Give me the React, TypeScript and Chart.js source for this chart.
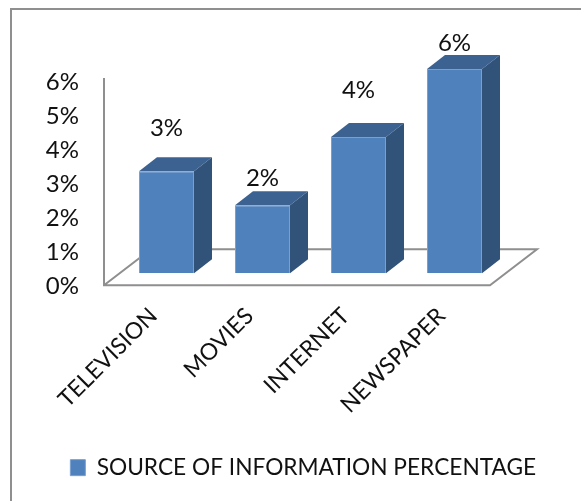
import React, { useEffect, useRef } from "react";
import { Chart, registerables } from "chart.js";

Chart.register(...registerables);

const categories = ["TELEVISION", "MOVIES", "INTERNET", "NEWSPAPER"];
const values = [3, 2, 4, 6];
const seriesName = "SOURCE OF INFORMATION PERCENTAGE";
const labelLift = [43, 27, 47, 26];
const FONT = "Lato, Carlito, Calibri, sans-serif";

const depthX = 18;
const depthY = 14;
const legendShift = 52;

const decor = {
  id: "decor3d",
  afterLayout(chart: any) {
    chart.legend.left += legendShift;
    chart.legend.right += legendShift;
  },
  beforeDatasetsDraw(chart: any) {
    const { ctx, chartArea, scales } = chart;
    const base = scales.y.getPixelForValue(0);
    ctx.save();
    ctx.strokeStyle = "#8f8f8f";
    ctx.lineWidth = 2;
    ctx.beginPath();
    ctx.moveTo(11, 501);
    ctx.lineTo(11, 9);
    ctx.lineTo(581, 9);
    ctx.stroke();

    const fl = chartArea.left - 14.5;
    const fr = chartArea.right - 12.5;
    const fb = base + 12;
    ctx.beginPath();
    ctx.moveTo(fl, scales.y.top + 9);
    ctx.lineTo(fl, fb);
    ctx.lineTo(fr, fb);
    ctx.lineTo(fr + 47, fb - 36);
    ctx.lineTo(fl + 47, fb - 36);
    ctx.lineTo(fl, fb);
    ctx.stroke();
    ctx.restore();
  },
  afterDatasetsDraw(chart: any) {
    const { ctx } = chart;
    const meta = chart.getDatasetMeta(0);
    ctx.save();
    meta.data.forEach((bar: any, i: number) => {
      const l = bar.x - bar.width / 2;
      const r = bar.x + bar.width / 2;
      const t = bar.y;
      const b = bar.base;
      ctx.fillStyle = "#3c6291";
      ctx.beginPath();
      ctx.moveTo(l, t);
      ctx.lineTo(l + depthX, t - depthY);
      ctx.lineTo(r + depthX, t - depthY);
      ctx.lineTo(r, t);
      ctx.closePath();
      ctx.fill();
      ctx.fillStyle = "#315279";
      ctx.beginPath();
      ctx.moveTo(r, t);
      ctx.lineTo(r + depthX, t - depthY);
      ctx.lineTo(r + depthX, b - depthY);
      ctx.lineTo(r, b);
      ctx.closePath();
      ctx.fill();
      ctx.fillStyle = "#111111";
      ctx.font = `24px ${FONT}`;
      ctx.textAlign = "center";
      ctx.textBaseline = "middle";
      ctx.fillText(`${values[i]}%`, bar.x, t - labelLift[i]);
    });
    ctx.restore();
  },
};

export default function App() {
  const ref = useRef<HTMLCanvasElement>(null);
  useEffect(() => {
    document.body.style.margin = "0";
    const chart = new Chart(ref.current!, {
      type: "bar",
      data: {
        labels: categories,
        datasets: [
          {
            label: seriesName,
            data: values,
            backgroundColor: "#4f81bd",
            borderColor: "#7aa0cf",
            borderWidth: 1,
            barPercentage: 0.573,
            categoryPercentage: 1,
          },
        ],
      },
      options: {
        responsive: false,
        animation: false,
        layout: { padding: { left: 0, right: 78.5, top: 69, bottom: 12 } },
        plugins: {
          tooltip: { enabled: false },
          legend: {
            position: "bottom",
            labels: {
              boxWidth: 15,
              boxHeight: 16,
              color: "#111111",
              font: { family: FONT, size: 22.7 },
              padding: 6,
            },
          },
        },
        scales: {
          x: {
            grid: { display: false, drawTicks: false },
            border: { display: false },
            ticks: {
              minRotation: 45,
              maxRotation: 45,
              autoSkip: false,
              color: "#111111",
              padding: 29,
              labelOffset: -13,
              font: { family: FONT, size: 23 },
            },
            afterFit: (s: any) => {
              s.height = 177;
            },
          },
          y: {
            min: 0,
            max: 6,
            grid: { display: false, drawTicks: false },
            border: { display: false },
            ticks: {
              stepSize: 1,
              color: "#111111",
              padding: 39.5,
              labelOffset: 13,
              font: { family: FONT, size: 24 },
              callback: (v: any) => `${v}%`,
            },
            afterFit: (s: any) => {
              s.width = 118.5;
            },
          },
        },
      },
      plugins: [decor],
    } as any);
    return () => chart.destroy();
  }, []);
  return <canvas ref={ref} width={581} height={501} style={{ display: "block" }} />;
}
